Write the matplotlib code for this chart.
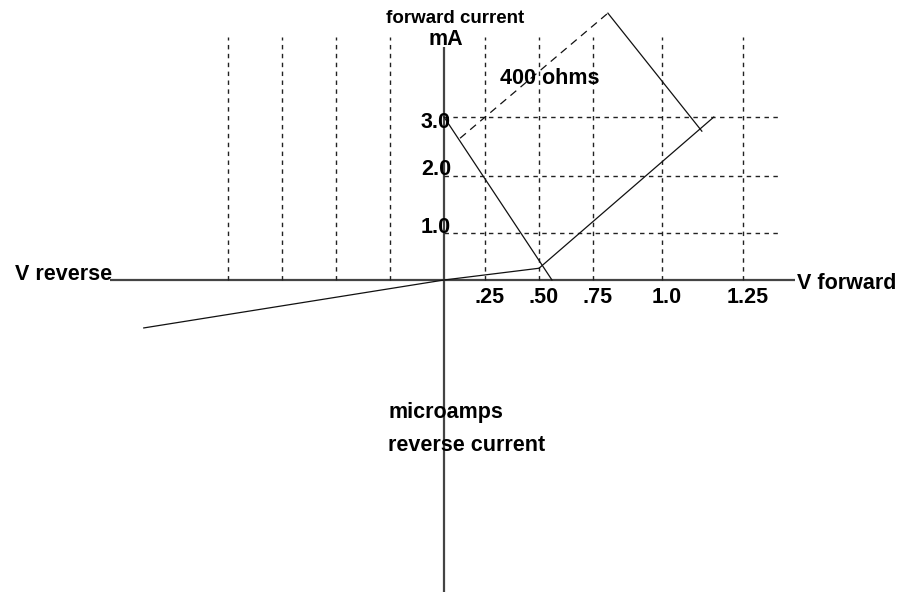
import numpy as np
import matplotlib
matplotlib.use("Agg")
import matplotlib.pyplot as plt

plt.rcParams['font.family'] = ['Liberation Sans', 'DejaVu Sans']
plt.rcParams['lines.scale_dashes'] = False

# diode characteristic (V, mA forward / microamps reverse)
diode_v = [-1.39, 0.0, 0.5, 1.16]
diode_i = [-1.02, 0.0, 0.25, 3.0]

# load line
load_v = [0.0, 0.56]
load_i = [3.0, 0.0]

# "400 ohms" construction lines
ohm_dash_v = [0.098, 0.804]
ohm_dash_i = [2.64, 4.76]
ohm_solid_v = [0.804, 1.123]
ohm_solid_i = [4.76, 2.76]

grid_v_fwd = [0.25, 0.5, 0.75, 1.0, 1.25]
grid_v_rev = [-0.25, -0.5, -0.75, -1.0]
grid_i = [1.0, 2.0, 3.0]
xtick_labels = ['.25', '.50', '.75', '1.0', '1.25']
ytick_labels = ['1.0', '2.0', '3.0']

# the sketch's axes are not evenly spaced: knots map values to drawn units (px)
x_knots = [-3.0, 0.0, 0.25, 0.5, 0.75, 1.0, 1.25, 2.0]
x_drawn = [-648, 0, 41, 95, 149, 218, 299, 542]
y_knots = [-10.0, 0.0, 1.0, 2.0, 3.0, 6.0]
y_drawn = [-470, 0, 47, 104, 163, 340]


def fx(v):
    return np.interp(v, x_knots, x_drawn)


def fx_inv(d):
    return np.interp(d, x_drawn, x_knots)


def fy(v):
    return np.interp(v, y_knots, y_drawn)


def fy_inv(d):
    return np.interp(d, y_drawn, y_knots)


fig = plt.figure(figsize=(9.08, 5.92), dpi=100)
ax = fig.add_axes([0, 0, 1, 1])
ax.set_xscale('function', functions=(fx, fx_inv))
ax.set_yscale('function', functions=(fy, fy_inv))
ax.set_xlim(fx_inv(-444), fx_inv(464))
ax.set_ylim(fy_inv(-312), fy_inv(280))
ax.axis('off')

axis_col = '#444444'
grid_top = fy_inv(243)
grid_right = fx_inv(336)

# axes
ax.plot([fx_inv(-334), fx_inv(351)], [0, 0], color=axis_col, lw=1.6, solid_capstyle='butt')
ax.plot([0, 0], [fy_inv(-320), fy_inv(233)], color=axis_col, lw=1.6, solid_capstyle='butt')

# dashed grid
dash = (0, (3.2, 3.2))
for v in grid_v_fwd + grid_v_rev:
    ax.plot([v, v], [0, grid_top], color='#222222', lw=1.0, linestyle=dash)
for i in grid_i:
    ax.plot([0, grid_right], [i, i], color='#222222', lw=1.0, linestyle=dash)

# curves
ax.plot(diode_v, diode_i, color='#111111', lw=0.9)
ax.plot(load_v, load_i, color='#111111', lw=0.9)
ax.plot(ohm_dash_v, ohm_dash_i, color='#111111', lw=0.9, linestyle=(0, (5.5, 4)))
ax.plot(ohm_solid_v, ohm_solid_i, color='#111111', lw=0.9)

fs = 15.5
txt = dict(fontsize=fs, fontweight='bold', color='black', textcoords='offset pixels')

for v, lab in zip(grid_v_fwd, xtick_labels):
    ax.annotate(lab, xy=(v, 0), xytext=(5, -23), ha='center', va='baseline', **txt)

ylab_nudge = [0, 1, -11]
for i, lab, n in zip(grid_i, ytick_labels, ylab_nudge):
    ax.annotate(lab, xy=(0, i), xytext=(7, n), ha='right', va='baseline', **txt)

ax.annotate('V forward', xy=(fx_inv(351), 0), xytext=(2, -9), ha='left', va='baseline', **txt)
ax.annotate('V reverse', xy=(fx_inv(-334), 0), xytext=(2, 0), ha='right', va='baseline', **txt)
ax.annotate('forward current', xy=(0, 0), xytext=(11, 257), ha='center', va='baseline',
            fontsize=13.5, fontweight='bold', textcoords='offset pixels')
ax.annotate('mA', xy=(0, 0), xytext=(2, 235), ha='center', va='baseline', **txt)
ax.annotate('400 ohms', xy=(0, 0), xytext=(106, 196), ha='center', va='baseline', **txt)
ax.annotate('microamps', xy=(0, 0), xytext=(-56, -138), ha='left', va='baseline', **txt)
ax.annotate('reverse current', xy=(0, 0), xytext=(-56, -171), ha='left', va='baseline', **txt)

fig.savefig('out.png', dpi=100)
